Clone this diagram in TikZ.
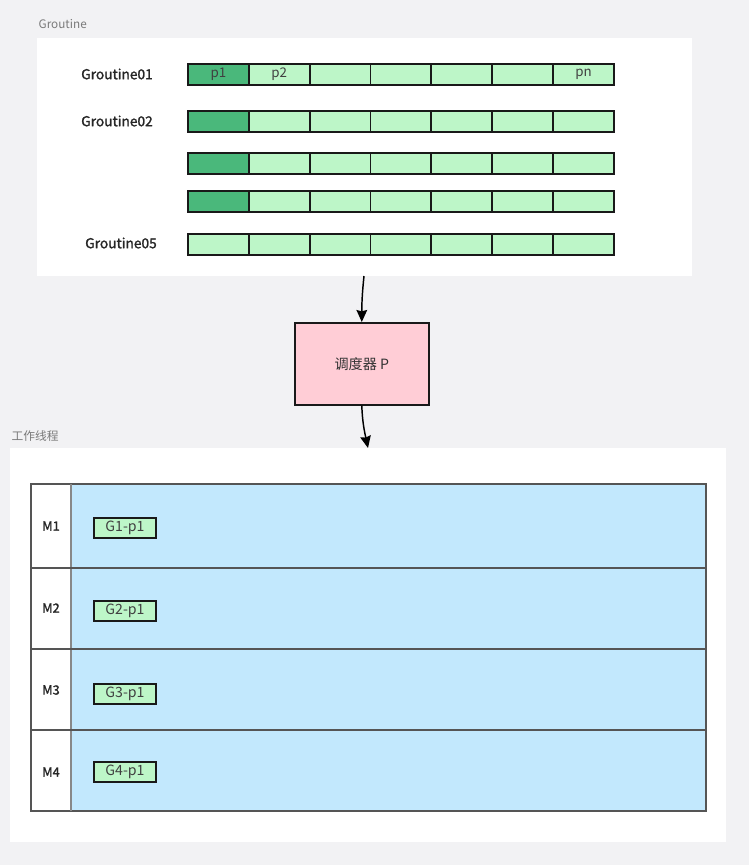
\documentclass[tikz,border=0pt]{standalone}
\usepackage{fontspec}
\setmainfont{Noto Sans CJK SC}
\newfontfamily\labfont[FakeBold=1.5]{Noto Sans CJK SC}
\usetikzlibrary{arrows.meta}
\definecolor{pagebg}{HTML}{F2F2F4}
\definecolor{cellhot}{HTML}{4AB87B}
\definecolor{cellcool}{HTML}{BDF6C8}
\definecolor{schedfill}{HTML}{FFCDD6}
\definecolor{lanefill}{HTML}{C2E8FD}
\definecolor{gridline}{HTML}{555555}
\definecolor{capgray}{HTML}{7A7A7A}
\begin{document}
\begin{tikzpicture}[x=0.75pt,y=-0.75pt,
  panel/.style={draw=none,fill=white,anchor=north west,inner sep=0pt},
  cell/.style={draw=black!90,line width=1.4pt,fill=cellcool,anchor=north west,
    minimum width=60.857*0.75pt,minimum height=21*0.75pt,inner sep=0pt},
  hotcell/.style={cell,fill=cellhot},
  celltext/.style={font=\fontsize{10}{11}\selectfont,text=black!75},
  rowlabel/.style={font=\labfont\fontsize{10.3}{12}\selectfont,text=black!85},
  mlabel/.style={font=\labfont\fontsize{9.6}{11}\selectfont,text=black!85},
  caption/.style={anchor=west,font=\fontsize{8.8}{10}\selectfont,text=capgray},
  taskbox/.style={draw=black!90,line width=1.4pt,fill=cellcool,
    minimum width=62*0.75pt,minimum height=20*0.75pt,inner sep=0pt,
    font=\fontsize{10.6}{11}\selectfont,text=black!75},
  flow/.style={-{Stealth[length=9pt,width=8pt,inset=1pt]},line width=1.1pt,black}
]
\useasboundingbox (0,0) rectangle (749,865);
\fill[pagebg] (0,0) rectangle (749,865);

% Goroutine queue panel
\node[caption] (gcap) at (34,24) {Groutine};
\node[panel,minimum width=655*0.75pt,minimum height=238*0.75pt] (gpanel) at (37,38) {};

% five queues of seven slots each
\foreach \r/\y/\hot in {1/63/1,2/110/1,3/152/1,4/190/1,5/233/0}{
  \foreach \c in {1,...,7}{
    \pgfmathsetmacro\cx{187+(\c-1)*60.857}
    \ifnum\c=1
      \ifnum\hot=1
        \node[hotcell] (q\r c\c) at (\cx,\y) {};
      \else
        \node[cell] (q\r c\c) at (\cx,\y) {};
      \fi
    \else
      \node[cell] (q\r c\c) at (\cx,\y) {};
    \fi
  }
}
\node[celltext] (t11) at (q1c1.center) {p1};
\node[celltext] (t12) at (q1c2.center) {p2};
\node[celltext] (t17) at (q1c7.center) {pn};

\node[rowlabel] (lab1) at (117,74) {Groutine01};
\node[rowlabel] (lab2) at (117,121) {Groutine02};
\node[rowlabel] (lab5) at (121,243) {Groutine05};

% scheduler
\node[draw=black!90,line width=1.2pt,fill=schedfill,anchor=north west,
  minimum width=134*0.75pt,minimum height=82*0.75pt,inner sep=0pt] (sched) at (294,322) {};
\node[font=\fontsize{10.6}{12}\selectfont,text=black!80] (schedtxt) at (sched.center) {调度器 P};

% worker thread panel
\node[caption] (wcap) at (7,436) {工作线程};
\node[panel,minimum width=716*0.75pt,minimum height=394*0.75pt] (wpanel) at (10,448) {};

% lanes
\fill[lanefill] (71,484) rectangle (706,811);
\draw[gridline,line width=0.8pt] (31,484) rectangle (706,811);
\draw[gridline!70,line width=0.8pt] (71,484) -- (71,811);
\foreach \ya in {568,649,730}{
  \draw[gridline,line width=0.8pt] (31,\ya) -- (706,\ya);
}
\foreach \m/\yl/\yb in {1/526/528,2/608/611,3/690/694,4/772/772}{
  \node[mlabel] (m\m) at (51,\yl) {M\m};
  \node[taskbox] (g\m) at (125,\yb) {G\m-p1};
}

% flow through the scheduler
\coordinate (gout) at (364,276);
\coordinate (win) at (368,448);
\draw[flow] (gout) to[out=-96,in=90] (sched.north);
\draw[flow] (sched.south) to[out=-88,in=102] (win);
\end{tikzpicture}
\end{document}
